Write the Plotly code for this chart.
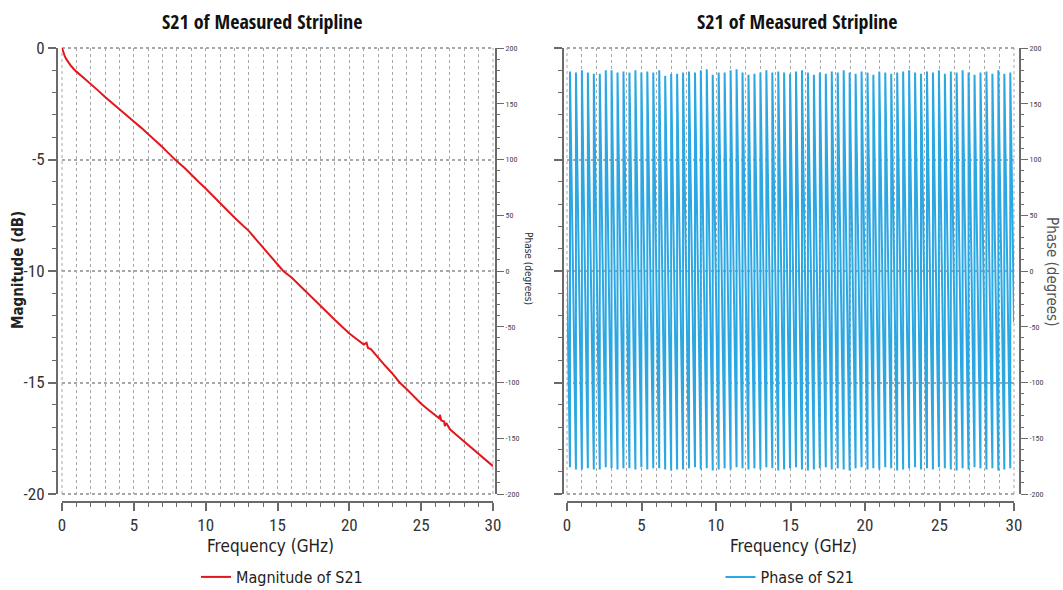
import plotly.graph_objects as go

# ---------------- data ----------------
freq_mag = [0.0, 0.05, 0.1, 0.2, 0.3, 0.45, 0.6, 0.8, 1.0, 1.5, 2.0, 2.5, 3.0, 3.5, 4.0, 4.5, 5.0,
            5.5, 6.0, 6.5, 7.0, 7.5, 7.86, 8.5, 9.0, 9.5, 10.0, 10.5, 11.0, 11.5, 12.0, 12.5, 13.0,
            13.5, 14.0, 14.5, 15.0, 15.4, 16.0, 16.5, 17.0, 17.5, 18.0, 18.5, 19.0, 19.5, 20.0,
            20.5, 21.0, 21.2, 21.3, 21.5, 22.0, 22.5, 23.0, 23.5, 24.0, 24.5, 25.0, 25.5, 26.0,
            26.25, 26.3, 26.4, 26.6, 26.65, 26.75, 27.0, 27.5, 28.0, 28.5, 29.0, 29.5, 30.0]
mag_db = [0.0, -0.12, -0.22, -0.38, -0.5, -0.65, -0.78, -0.93, -1.06, -1.33, -1.6, -1.9, -2.2,
          -2.48, -2.78, -3.04, -3.3, -3.57, -3.85, -4.15, -4.45, -4.77, -5.0, -5.36, -5.7, -6.0,
          -6.3, -6.63, -6.95, -7.28, -7.6, -7.9, -8.2, -8.58, -8.95, -9.3, -9.68, -10.0, -10.3,
          -10.62, -10.95, -11.28, -11.6, -11.9, -12.2, -12.5, -12.8, -13.05, -13.3, -13.22, -13.45,
          -13.5, -13.9, -14.25, -14.6, -15.0, -15.3, -15.62, -15.95, -16.22, -16.5, -16.6, -16.45,
          -16.7, -16.75, -16.95, -16.82, -17.1, -17.38, -17.65, -17.93, -18.2, -18.48, -18.75]

phase_start = 0.0
phase_end = -46.0
wrap_freq = [0.20, 0.60, 1.00, 1.40, 1.80, 2.20, 2.60, 2.99, 3.39, 3.79, 4.19, 4.59, 4.99, 5.39,
             5.79, 6.19, 6.59, 6.99, 7.39, 7.79, 8.19, 8.59, 8.98, 9.38, 9.78, 10.18, 10.58,
             10.98, 11.38, 11.78, 12.18, 12.58, 12.98, 13.38, 13.78, 14.18, 14.57, 14.97, 15.37,
             15.77, 16.17, 16.57, 16.97, 17.37, 17.77, 18.17, 18.57, 18.97, 19.37, 19.77, 20.17,
             20.56, 20.96, 21.36, 21.76, 22.16, 22.56, 22.96, 23.36, 23.76, 24.16, 24.56, 24.96,
             25.36, 25.76, 26.15, 26.55, 26.95, 27.35, 27.75, 28.15, 28.55, 28.95, 29.35, 29.75]
trough_deg = [-176, -178, -178, -177, -178, -178, -176, -177, -178, -177, -177, -178, -176, -178,
              -177, -177, -178, -179, -178, -178, -177, -176, -178, -177, -179, -178, -177,
              -178, -176, -177, -178, -177, -178, -176, -177, -179, -178, -177, -176, -178,
              -179, -178, -177, -176, -178, -177, -178, -179, -177, -176, -178, -177, -178,
              -176, -177, -179, -178, -177, -176, -178, -177, -178, -176, -177, -178, -179,
              -177, -178, -176, -177, -178, -177, -179, -178, -177]
peak_deg = [179, 178, 180, 178, 177, 177, 180, 180, 178, 179, 178, 180, 178, 179, 178, 180,
            175, 177, 177, 178, 179, 178, 180, 181, 176, 178, 178, 180, 181, 178, 176, 177,
            178, 180, 178, 179, 178, 177, 179, 180, 178, 176, 178, 177, 179, 178, 180, 178,
            177, 179, 178, 176, 179, 178, 177, 178, 179, 180, 178, 177, 179, 178, 180, 177,
            179, 178, 180, 178, 176, 178, 179, 177, 180, 177, 178]

x_ticks = [0, 5, 10, 15, 20, 25, 30]
x_labels = ["0", "5", "10", "15", "20", "25", "30"]
mag_ticks = [0, -5, -10, -15, -20]
mag_labels = ["0", "-5", "-10", "-15", "-20"]
ph_ticks = [200, 150, 100, 50, 0, -50, -100, -150, -200]
ph_labels = ["200", "150", "100", "50", "0", "-50", "-100", "-150", "-200"]

# ---------------- build phase trace from the lists ----------------
ph_x = [0.0]
ph_y = [phase_start]
for f, lo, hi in zip(wrap_freq, trough_deg, peak_deg):
    ph_x += [f, f]
    ph_y += [lo, hi]
ph_x.append(30.0)
ph_y.append(phase_end)

W, H = 1063, 590
def px(x):
    return x / W
def py(y):
    return 1 - y / H

FONT = "DejaVu Sans Condensed, DejaVu Sans, sans-serif"
TICKFONT = "Roboto Condensed, DejaVu Sans Condensed, sans-serif"
TITLEFONT = "Open Sans Condensed, Roboto Condensed, DejaVu Sans Condensed, sans-serif"
AXC = "#6a6a6a"
GRIDC = "#a8a8a8"

fig = go.Figure()
fig.add_trace(go.Scatter(x=freq_mag, y=mag_db, mode="lines", name="Magnitude of S21",
                         line=dict(color="#e3171b", width=2), xaxis="x", yaxis="y",
                         legend="legend"))
fig.add_trace(go.Scatter(x=ph_x, y=ph_y, mode="lines", name="Phase of S21",
                         line=dict(color="#2ba8e4", width=2), xaxis="x2", yaxis="y4",
                         legend="legend2"))
# empty helper traces so that the paired axes are drawn
fig.add_trace(go.Scatter(x=[], y=[], xaxis="x", yaxis="y2", showlegend=False, hoverinfo="skip"))
fig.add_trace(go.Scatter(x=[], y=[], xaxis="x2", yaxis="y3", showlegend=False, hoverinfo="skip"))

xcommon = dict(range=[0, 30], tickvals=x_ticks, ticktext=x_labels, showline=True,
               linecolor=AXC, linewidth=2,
               ticks="outside", ticklen=8, tickwidth=1.5, tickcolor=AXC,
               tickfont=dict(family=TICKFONT, size=17, color="#333"),
               showgrid=True, gridcolor=GRIDC, griddash="dot", gridwidth=1,
               zeroline=False,
               minor=dict(dtick=1, ticks="outside", ticklen=4, tickcolor=AXC, tickwidth=1.2,
                          showgrid=True, gridcolor=GRIDC, griddash="dot", gridwidth=1))

phcommon = dict(range=[-200, 200], side="right", anchor="free",
                tickvals=ph_ticks, ticktext=ph_labels, showline=True, linecolor=AXC,
                linewidth=2, ticks="outside", ticklen=7, tickwidth=1.2, tickcolor=AXC,
                tickfont=dict(family=TICKFONT, size=8, color="#444"),
                showgrid=False, zeroline=False,
                minor=dict(dtick=10, ticks="outside", ticklen=3, tickcolor=AXC, tickwidth=1))

fig.update_layout(
    width=W, height=H, margin=dict(l=0, r=0, t=0, b=0, autoexpand=False),
    paper_bgcolor="white", plot_bgcolor="white",
    xaxis=dict(domain=[px(62), px(493)], anchor="free", position=py(502), **xcommon),
    xaxis2=dict(domain=[px(567), px(1014)], anchor="free", position=py(502), **xcommon),
    yaxis=dict(domain=[py(494), py(48)], range=[-20, 0], anchor="free", position=px(57),
               tickvals=mag_ticks, ticktext=mag_labels, showline=True, linecolor=AXC,
               linewidth=2, ticks="outside", ticklen=8, tickwidth=1.5, tickcolor=AXC,
               tickfont=dict(family=TICKFONT, size=17, color="#333"),
               showgrid=True, gridcolor=GRIDC, griddash="dot", gridwidth=2, zeroline=False,
               minor=dict(dtick=1, ticks="outside", ticklen=4, tickcolor=AXC, tickwidth=1.2)),
    yaxis2=dict(overlaying="y", position=px(496), **phcommon),
    yaxis3=dict(domain=[py(494), py(48)], range=[-20, 0], anchor="free", position=px(563),
                tickvals=mag_ticks, showticklabels=False, showline=True, linecolor=AXC,
                linewidth=2, ticks="outside", ticklen=8, tickwidth=1.5, tickcolor=AXC,
                showgrid=True, gridcolor=GRIDC, griddash="dot", gridwidth=2, zeroline=False,
                minor=dict(dtick=1, ticks="outside", ticklen=4, tickcolor=AXC, tickwidth=1.2)),
    yaxis4=dict(overlaying="y3", position=px(1020), **phcommon),
    legend=dict(x=px(282), y=py(577), xanchor="center", yanchor="middle",
                font=dict(family=FONT, size=16, color="#222"), itemwidth=30,
                bgcolor="rgba(0,0,0,0)"),
    legend2=dict(x=px(790), y=py(577), xanchor="center", yanchor="middle",
                 font=dict(family=FONT, size=16, color="#222"), itemwidth=30,
                 bgcolor="rgba(0,0,0,0)"),
    showlegend=True,
)

# dotted frame lines at the plot edges (grid lines at the range ends)
shapes = []
for xa, ya in (("x", "y"), ("x2", "y3")):
    for yy in (0, 1):
        shapes.append(dict(type="line", xref=xa + " domain", yref=ya + " domain",
                           x0=0, x1=1, y0=yy, y1=yy, layer="below",
                           line=dict(color=GRIDC, width=2, dash="dot")))
    for xx in (0, 1):
        shapes.append(dict(type="line", xref=xa + " domain", yref=ya + " domain",
                           x0=xx, x1=xx, y0=0, y1=1, layer="below",
                           line=dict(color=GRIDC, width=1, dash="dot")))
fig.update_layout(shapes=shapes)

ann = []
for cx in (262, 797):
    ann.append(dict(text="<b>S21 of Measured Stripline</b>", x=px(cx), y=py(22),
                    xref="paper", yref="paper", showarrow=False, xanchor="center",
                    yanchor="middle", font=dict(family=TITLEFONT, size=20, color="#111")))
for cx in (270, 793):
    ann.append(dict(text="Frequency (GHz)", x=px(cx), y=py(546), xref="paper", yref="paper",
                    showarrow=False, xanchor="center", yanchor="middle",
                    font=dict(family=FONT, size=17, color="#222")))
ann.append(dict(text="<b>Magnitude (dB)</b>", x=px(18), y=py(270), xref="paper", yref="paper",
                showarrow=False, textangle=-90, xanchor="center", yanchor="middle",
                font=dict(family=FONT, size=15, color="#222")))
ann.append(dict(text="Phase (degrees)", x=px(528), y=py(268), xref="paper", yref="paper",
                showarrow=False, textangle=90, xanchor="center", yanchor="middle",
                font=dict(family=FONT, size=10, color="#333")))
ann.append(dict(text="Phase (degrees)", x=px(1052), y=py(271), xref="paper", yref="paper",
                showarrow=False, textangle=90, xanchor="center", yanchor="middle",
                font=dict(family=FONT, size=15, color="#555")))
fig.update_layout(annotations=ann)

fig.write_html("out.html")
